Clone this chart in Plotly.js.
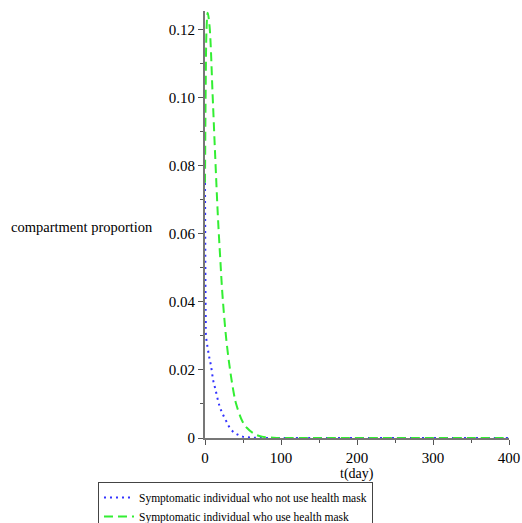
<!DOCTYPE html>
<html>
<head>
<meta charset="utf-8">
<script src="https://cdn.plot.ly/plotly-3.0.1.min.js"></script>
<style>html,body{margin:0;padding:0;background:#fff;}#chart{width:522px;height:523px;}</style>
</head>
<body>
<div id="chart"></div>
<script>
// Symptomatic individuals who do not use a health mask (blue dotted)
const tNoMask = [0, 0.3, 0.6, 1, 1.3, 3.5, 5.7, 7.9, 10.9, 13.6, 16.6, 19.7, 23.2, 27.6, 32, 37.7, 43, 49.5, 60, 70, 85, 100, 150, 200, 250, 300, 350, 400];
const yNoMask = [0.075, 0.06, 0.045, 0.035, 0.030, 0.0265, 0.0236, 0.0212, 0.0168, 0.0144, 0.0115, 0.009, 0.0071, 0.0051, 0.0032, 0.0017, 0.001, 0.0004, 0.00015, 0.00005, 0.00001, 0, 0, 0, 0, 0, 0, 0];
// Symptomatic individuals who use a health mask (green dashed)
const tMask = [0, 1, 2, 3.5, 6, 10, 13, 17, 20, 23, 28, 33, 38, 41, 49, 55, 65, 75, 90, 100, 150, 200, 250, 300, 350, 400];
const yMask = [0.075, 0.105, 0.12, 0.125, 0.121, 0.101, 0.085, 0.065, 0.053, 0.042, 0.029, 0.02, 0.013, 0.01, 0.005, 0.003, 0.0012, 0.0004, 0.0001, 0, 0, 0, 0, 0, 0, 0];
const seriesNames = ["Symptomatic individual who not use health mask", "Symptomatic individual who use health mask"];
const xTickVals = [0, 100, 200, 300, 400];
const yTickVals = [0, 0.02, 0.04, 0.06, 0.08, 0.10, 0.12];
const yTickText = ["0", "0.02", "0.04", "0.06", "0.08", "0.10", "0.12"];

const serif = "'Liberation Serif', 'Times New Roman', serif";
const traces = [
  {x: tNoMask, y: yNoMask, name: seriesNames[0], mode: "lines", line: {color: "#3333ff", dash: "2px,4px", width: 2, shape: "spline"}},
  {x: tMask, y: yMask, name: seriesNames[1], mode: "lines", line: {color: "#33ee33", dash: "9px,5px", width: 2, shape: "spline"}}
];
const layout = {
  width: 522, height: 523,
  margin: {l: 205, r: 13, t: 11, b: 85, autoexpand: false},
  paper_bgcolor: "#fff", plot_bgcolor: "#fff",
  font: {family: serif, size: 15, color: "#000"},
  showlegend: true,
  legend: {x: -0.352, y: -0.103, xanchor: "left", yanchor: "top", orientation: "v",
           bordercolor: "#444", borderwidth: 1, bgcolor: "rgba(0,0,0,0)",
           font: {family: serif, size: 11.5, color: "#000"}, tracegroupgap: 0, itemwidth: 30},
  xaxis: {range: [0, 400], tickvals: xTickVals, ticks: "outside", ticklen: 5, tickcolor: "#555",
          showline: true, linecolor: "#777", linewidth: 2, showgrid: false, zeroline: false,
          minor: {dtick: 50, ticks: "outside", ticklen: 3, tickcolor: "#555"}, fixedrange: true},
  yaxis: {range: [0, 0.1255], tickvals: yTickVals, ticktext: yTickText, ticks: "outside", ticklen: 5, tickcolor: "#555",
          showline: true, linecolor: "#777", linewidth: 2, showgrid: false, zeroline: false,
          minor: {dtick: 0.01, ticks: "outside", ticklen: 3, tickcolor: "#555"}, fixedrange: true},
  annotations: [
    {text: "compartment proportion", xref: "paper", yref: "paper", x: -0.645, y: 0.495, xanchor: "left", yanchor: "middle", showarrow: false, font: {family: serif, size: 14.5}},
    {text: "t(day)", xref: "paper", yref: "paper", x: 0.5, y: -0.085, xanchor: "center", yanchor: "middle", showarrow: false, font: {family: serif, size: 14}}
  ]
};
Plotly.newPlot("chart", traces, layout, {displayModeBar: false, staticPlot: true});
</script>
</body>
</html>
